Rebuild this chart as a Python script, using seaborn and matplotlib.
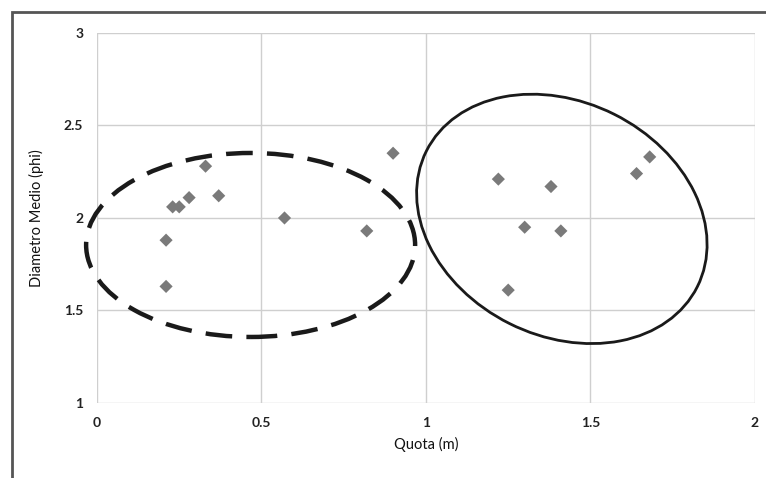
import matplotlib
matplotlib.use("Agg")
import matplotlib.pyplot as plt
import matplotlib.transforms as mtransforms
from matplotlib.patches import Ellipse, Rectangle
import seaborn as sns
import pandas as pd

# quota (m) and diametro medio (phi)
quota = [0.21, 0.21, 0.23, 0.25, 0.28, 0.33, 0.37, 0.57, 0.82, 0.90,
         1.22, 1.25, 1.30, 1.38, 1.41, 1.64, 1.68]
diametro = [1.63, 1.88, 2.06, 2.06, 2.11, 2.28, 2.12, 2.00, 1.93, 2.35,
            2.21, 1.61, 1.95, 2.17, 1.93, 2.24, 2.33]

x_ticks = [0, 0.5, 1, 1.5, 2]
x_labels = ["0", "0.5", "1", "1.5", "2"]
y_ticks = [1, 1.5, 2, 2.5, 3]
y_labels = ["1", "1.5", "2", "2.5", "3"]

df = pd.DataFrame({"Quota (m)": quota, "Diametro Medio (phi)": diametro})

sns.set_style("white")
plt.rcParams["font.family"] = ["Lato", "DejaVu Sans"]

fig = plt.figure(figsize=(7.66, 4.78), dpi=100)
ax = fig.add_axes([0.1266, 0.157, 0.859, 0.774])

sns.scatterplot(data=df, x="Quota (m)", y="Diametro Medio (phi)", marker="D",
                s=45, color="#7a7a7a", edgecolor="none", ax=ax, zorder=3)

ax.set_xlim(0, 2)
ax.set_ylim(1, 3)
ax.set_xticks(x_ticks)
ax.set_xticklabels(x_labels, fontweight="bold")
ax.set_yticks(y_ticks)
ax.set_yticklabels(y_labels, fontweight="bold")
ax.grid(True, color="#cfcfcf", linewidth=1)
for s in ax.spines.values():
    s.set_visible(False)
ax.tick_params(axis="both", labelsize=10, labelcolor="#222222", length=4,
               width=0.8, pad=6, color="#bbbbbb")
ax.set_xlabel("Quota (m)", fontsize=10.5, color="#111111", labelpad=6)
ax.set_ylabel("Diametro Medio (phi)", fontsize=10.5, color="#111111", labelpad=14)

# hand-drawn ellipses, sized in inches around a data-space centre
fig.canvas.draw()
dashed = Ellipse((0, 0), 3.29, 1.84, angle=0, fill=False, edgecolor="#1a1a1a",
                 linewidth=3.2, linestyle=(0, (6, 3.2)),
                 transform=fig.dpi_scale_trans + mtransforms.ScaledTranslation(0.467, 1.854, ax.transData),
                 clip_on=False, zorder=4)
solid = Ellipse((0, 0), 3.03, 2.34, angle=-26.6, fill=False, edgecolor="#1a1a1a",
                linewidth=2.0,
                transform=fig.dpi_scale_trans + mtransforms.ScaledTranslation(1.413, 1.995, ax.transData),
                clip_on=False, zorder=4)
ax.add_patch(dashed)
ax.add_patch(solid)

# outer chart frame
fig.add_artist(Rectangle((0.0157, -0.05), 1.2, 1.025, transform=fig.transFigure,
                         fill=False, edgecolor="#555555", linewidth=2))

fig.savefig("out.png", dpi=100)
